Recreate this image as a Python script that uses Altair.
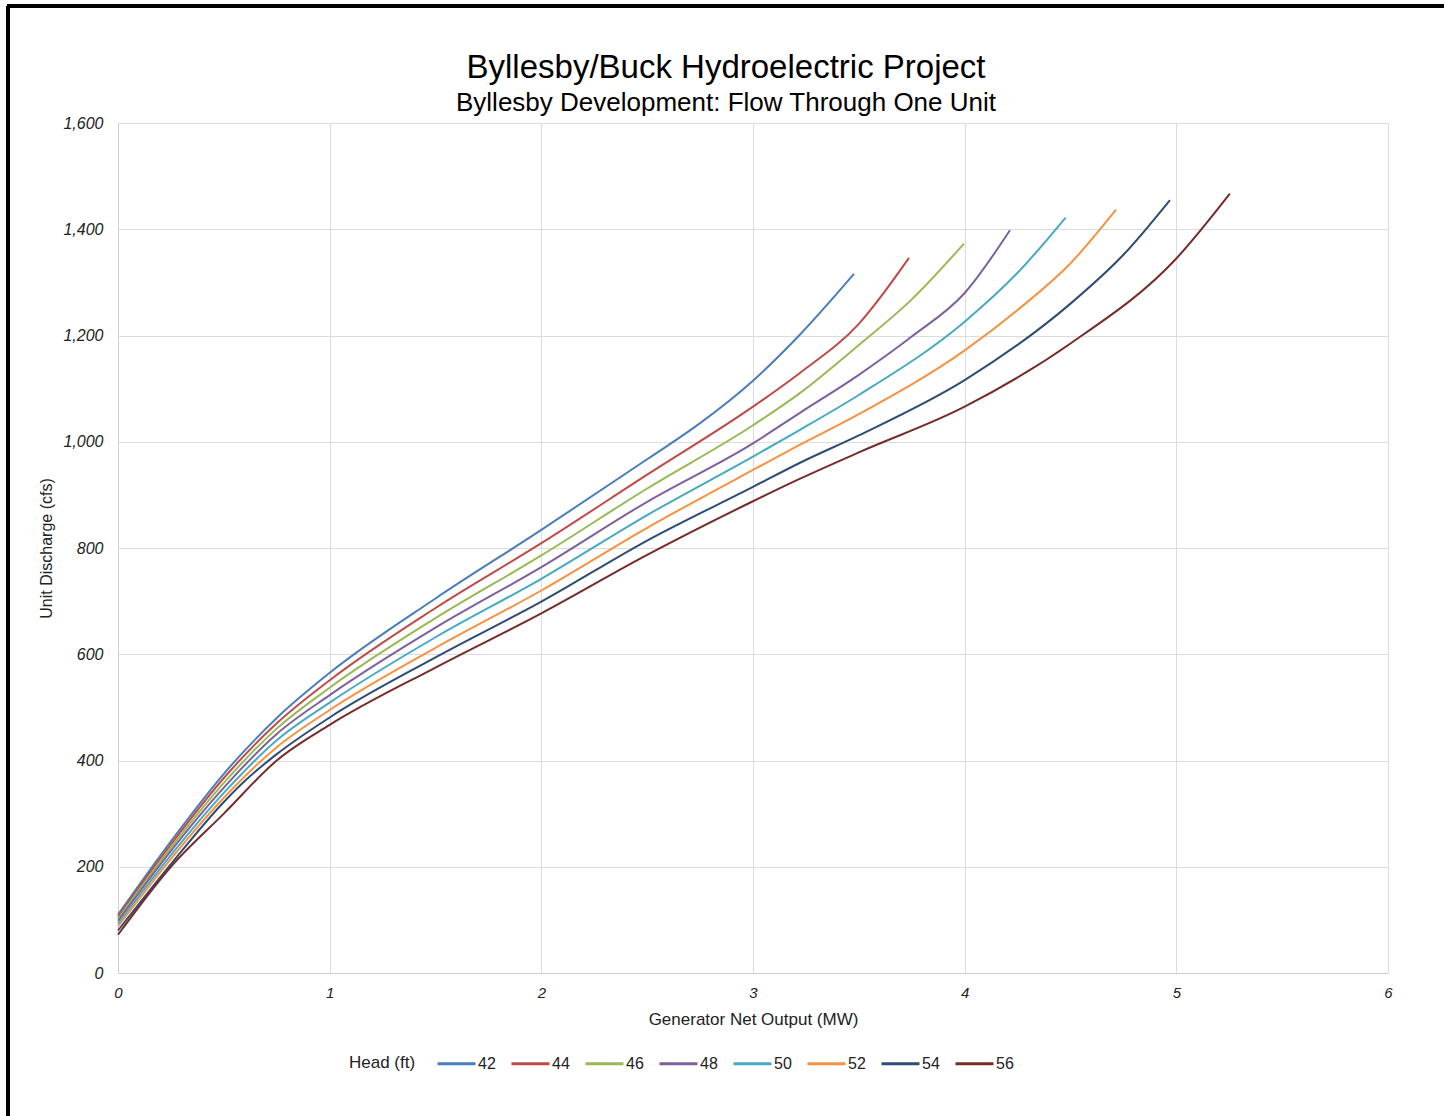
import altair as alt
import pandas as pd

heads = ["42", "44", "46", "48", "50", "52", "54", "56"]
colors = ["#4a7ebb", "#be4b48", "#98b954", "#7d60a0", "#46aac5", "#f69240", "#2c4d75", "#772c2a"]

x42 = [0, 0.25, 0.5, 0.75, 1.0, 1.5, 2.0, 2.5, 2.75, 3.0, 3.22, 3.477]
y42 = [110, 248, 375, 480, 565, 705, 834, 967, 1035, 1115, 1201, 1316]

x44 = [0, 0.25, 0.5, 0.75, 1.0, 1.5, 2.0, 2.5, 3.0, 3.22, 3.5, 3.737]
y44 = [106, 242, 367, 470, 551, 687, 809, 938, 1066, 1129, 1222, 1346]

x46 = [0, 0.25, 0.5, 0.75, 1.0, 1.5, 2.0, 2.5, 3.0, 3.22, 3.5, 3.75, 3.997]
y46 = [102, 236, 358, 460, 537, 668, 786, 912, 1031, 1091, 1182, 1268, 1373]

x48 = [0, 0.25, 0.5, 0.75, 1.0, 1.5, 2.0, 2.5, 3.0, 3.22, 3.5, 3.75, 4.0, 4.214]
y48 = [98, 230, 349, 450, 523, 650, 764, 887, 997, 1054, 1126, 1198, 1280, 1398]

x50 = [0, 0.25, 0.5, 0.75, 1.0, 1.5, 2.0, 2.5, 3.0, 3.22, 3.5, 4.0, 4.25, 4.477]
y50 = [93, 222, 339, 438, 509, 632, 742, 862, 972, 1022, 1088, 1226, 1318, 1422]

x52 = [0, 0.25, 0.5, 0.75, 1.0, 1.5, 2.0, 2.5, 3.0, 3.22, 3.5, 4.0, 4.25, 4.5, 4.715]
y52 = [88, 215, 330, 425, 495, 612, 720, 838, 947, 994, 1052, 1172, 1248, 1336, 1437]

x54 = [0, 0.25, 0.5, 0.6, 0.75, 1.0, 1.5, 2.0, 2.5, 3.0, 3.22, 3.5, 4.0, 4.5, 4.75, 4.97]
y54 = [80, 205, 322, 362, 412, 481, 594, 699, 814, 915, 960, 1012, 1116, 1260, 1352, 1455]

x56 = [0, 0.25, 0.5, 0.75, 1.0, 1.5, 2.0, 2.5, 3.0, 3.22, 3.5, 4.0, 4.5, 5.0, 5.253]
y56 = [72, 200, 300, 400, 467, 575, 677, 787, 888, 930, 980, 1066, 1185, 1345, 1467]

series_x = [x42, x44, x46, x48, x50, x52, x54, x56]
series_y = [y42, y44, y46, y48, y50, y52, y54, y56]

rows = []
for h, xs, ys in zip(heads, series_x, series_y):
    for i, (xv, yv) in enumerate(zip(xs, ys)):
        rows.append({"head": h, "output": xv, "discharge": yv, "order": i})
df = pd.DataFrame(rows)

FONT = "Liberation Sans"

lines = alt.Chart(df).mark_line(strokeWidth=2, interpolate="monotone").encode(
    x=alt.X("output:Q", scale=alt.Scale(domain=[0, 6], nice=False),
            axis=alt.Axis(title="Generator Net Output (MW)", values=[0, 1, 2, 3, 4, 5, 6],
                          format="d", labelFontStyle="italic", labelFontSize=15,
                          labelPadding=12, labelFlush=False, titleFontSize=17, titlePadding=11,
                          titleFontWeight="normal", titleFont=FONT, labelFont=FONT,
                          labelColor="#222222", titleColor="#222222",
                          ticks=False, domainColor="#d0d0d0", gridColor="#dcdcdc")),
    y=alt.Y("discharge:Q", scale=alt.Scale(domain=[0, 1600], nice=False),
            axis=alt.Axis(title="Unit Discharge (cfs)", values=list(range(0, 1601, 200)),
                          format=",d", labelFontStyle="italic", labelFontSize=16,
                          labelPadding=15, labelFlush=False, titleFontSize=16, titlePadding=8,
                          titleFontWeight="normal", titleFont=FONT, labelFont=FONT,
                          labelColor="#222222", titleColor="#222222",
                          ticks=False, domainColor="#d0d0d0", gridColor="#dcdcdc")),
    color=alt.Color("head:N", scale=alt.Scale(domain=heads, range=colors),
                    legend=alt.Legend(title="Head (ft)", orient="none", legendX=231, legendY=920,
                                      direction="horizontal", titleOrient="left",
                                      titleBaseline="line-top", titleLineHeight=12,
                                      symbolType="stroke", symbolSize=1444, symbolStrokeWidth=3,
                                      labelFontSize=16, titleFontSize=17, titleFontWeight="normal",
                                      labelFont=FONT, titleFont=FONT, labelOffset=1,
                                      columnPadding=9, titlePadding=20,
                                      labelColor="#222222", titleColor="#222222")),
    order="order:Q",
)

frame_left = alt.Chart(df).mark_rule(color="black", strokeWidth=3).encode(
    x=alt.value(-110), y=alt.value(-117), y2=alt.value(993))
frame_top = alt.Chart(df).mark_rule(color="black", strokeWidth=3).encode(
    x=alt.value(-111), x2=alt.value(1326), y=alt.value(-117))

chart = alt.layer(lines, frame_left, frame_top).properties(
    width=1270, height=850,
    padding={"left": 118, "top": 123, "right": 56, "bottom": 143},
    autosize=alt.AutoSizeParams(type="none"),
    title=alt.Title(text="Byllesby/Buck Hydroelectric Project",
                    subtitle="Byllesby Development: Flow Through One Unit",
                    font=FONT, subtitleFont=FONT, fontSize=33, subtitleFontSize=26,
                    fontWeight="normal", color="black", subtitleColor="black",
                    anchor="middle", frame="group", dx=-27, dy=121, offset=10,
                    subtitlePadding=5),
).configure_view(stroke=None).configure(background="white")

chart.save("out.html", embed_options={"renderer": "svg", "actions": False})
